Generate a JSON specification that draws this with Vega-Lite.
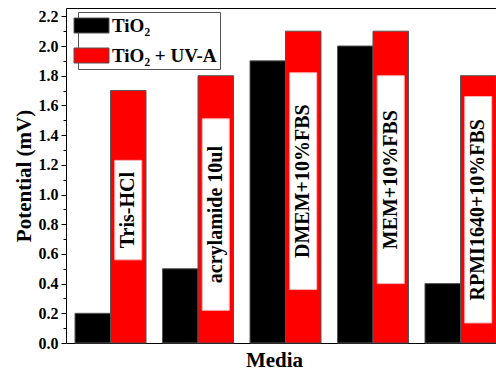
{
  "$schema": "https://vega.github.io/schema/vega-lite/v6.json",
  "autosize": {"type": "none"},
  "padding": {"left": 66, "top": 8, "right": 0, "bottom": 30},
  "width": 430,
  "height": 335,
  "background": "white",
  "config": {"view": {"stroke": null}},
  "datasets": {
    "bars": [
      {"media": "Tris-HCl", "series": "TiO₂", "value": 0.2},
      {"media": "Tris-HCl", "series": "TiO₂ + UV-A", "value": 1.7},
      {"media": "acrylamide 10ul", "series": "TiO₂", "value": 0.5},
      {"media": "acrylamide 10ul", "series": "TiO₂ + UV-A", "value": 1.8},
      {"media": "DMEM+10%FBS", "series": "TiO₂", "value": 1.9},
      {"media": "DMEM+10%FBS", "series": "TiO₂ + UV-A", "value": 2.1},
      {"media": "MEM+10%FBS", "series": "TiO₂", "value": 2.0},
      {"media": "MEM+10%FBS", "series": "TiO₂ + UV-A", "value": 2.1},
      {"media": "RPMI1640+10%FBS", "series": "TiO₂", "value": 0.4},
      {"media": "RPMI1640+10%FBS", "series": "TiO₂ + UV-A", "value": 1.8}
    ],
    "boxes": [
      {"media": "Tris-HCl", "series": "TiO₂ + UV-A", "low": 0.56, "high": 1.23},
      {"media": "acrylamide 10ul", "series": "TiO₂ + UV-A", "low": 0.22, "high": 1.51},
      {"media": "DMEM+10%FBS", "series": "TiO₂ + UV-A", "low": 0.36, "high": 1.82},
      {"media": "MEM+10%FBS", "series": "TiO₂ + UV-A", "low": 0.40, "high": 1.80},
      {"media": "RPMI1640+10%FBS", "series": "TiO₂ + UV-A", "low": 0.135, "high": 1.66}
    ]
  },
  "layer": [
    {
      "data": {"name": "bars"},
      "mark": {"type": "bar", "stroke": "#555555", "strokeWidth": 1},
      "encoding": {
        "x": {
          "field": "media", "type": "nominal", "sort": null,
          "scale": {"range": [0, 439], "paddingInner": 0.1886, "paddingOuter": 0.103},
          "axis": {
            "orient": "bottom", "labels": false, "ticks": false, "grid": false,
            "domainColor": "black", "domainWidth": 1,
            "title": "Media", "titleFont": "Liberation Serif", "titleFontSize": 21,
            "titleFontWeight": "bold", "titleColor": "black", "titlePadding": 6,
            "titleX": 208, "titleAlign": "center"
          }
        },
        "xOffset": {"field": "series", "type": "nominal", "sort": null, "scale": {"paddingInner": 0, "paddingOuter": 0}},
        "y": {
          "field": "value", "type": "quantitative",
          "scale": {"domain": [0, 2.256], "nice": false},
          "axis": {
            "values": [0, 0.2, 0.4, 0.6, 0.8, 1.0, 1.2, 1.4, 1.6, 1.8, 2.0, 2.2],
            "format": ".1f", "labelFont": "Liberation Serif", "labelFontWeight": "bold",
            "labelFontSize": 16, "labelColor": "black", "labelPadding": 3,
            "labelFlush": false, "labelOverlap": false,
            "tickSize": 5, "tickColor": "black", "tickWidth": 1,
            "domainColor": "black", "domainWidth": 1, "grid": false,
            "title": "Potential (mV)", "titleFont": "Liberation Serif", "titleFontSize": 21,
            "titleFontWeight": "bold", "titleColor": "black", "titlePadding": 4
          }
        },
        "color": {
          "field": "series", "type": "nominal", "sort": null,
          "scale": {"domain": ["TiO₂", "TiO₂ + UV-A"], "range": ["#000000", "#ff0000"]},
          "legend": {
            "orient": "none", "legendX": 12, "legendY": 4, "title": null,
            "symbolType": "M-1.75,-0.75L1.75,-0.75L1.75,0.75L-1.75,0.75Z", "symbolSize": 400,
            "symbolStrokeColor": "#555555", "symbolStrokeWidth": 1, "symbolOpacity": 1,
            "labelFont": "Liberation Serif", "labelFontSize": 19, "labelFontWeight": "bold",
            "labelColor": "black", "labelOffset": 10, "rowPadding": 9, "padding": 3,
            "strokeColor": "#555555", "fillColor": "white"
          }
        }
      }
    },
    {
      "data": {"name": "boxes"},
      "mark": {"type": "bar", "width": 27, "fill": "white", "stroke": "#f7b3b3", "strokeWidth": 1},
      "encoding": {
        "x": {
          "field": "media", "type": "nominal", "sort": null,
          "axis": {"orient": "top", "labels": false, "ticks": false, "grid": false, "domainColor": "black", "domainWidth": 1, "title": null}
        },
        "xOffset": {"field": "series", "type": "nominal", "sort": null},
        "y": {
          "field": "low", "type": "quantitative",
          "axis": {
            "orient": "left", "values": [0.1, 0.3, 0.5, 0.7, 0.9, 1.1, 1.3, 1.5, 1.7, 1.9, 2.1],
            "labels": false, "tickSize": 3, "tickColor": "black", "domain": false, "grid": false, "title": null
          }
        },
        "y2": {"field": "high"}
      }
    },
    {
      "data": {"name": "boxes"},
      "transform": [{"calculate": "(datum.low + datum.high) / 2", "as": "mid"}],
      "mark": {"type": "text", "angle": 270, "align": "center", "baseline": "middle", "font": "Liberation Serif", "fontSize": 20, "fontWeight": "bold", "color": "black"},
      "encoding": {
        "x": {"field": "media", "type": "nominal", "sort": null, "axis": null},
        "xOffset": {"field": "series", "type": "nominal", "sort": null},
        "y": {"field": "mid", "type": "quantitative", "axis": null},
        "text": {"field": "media"}
      }
    }
  ],
  "resolve": {"axis": {"x": "independent", "y": "independent"}}
}
